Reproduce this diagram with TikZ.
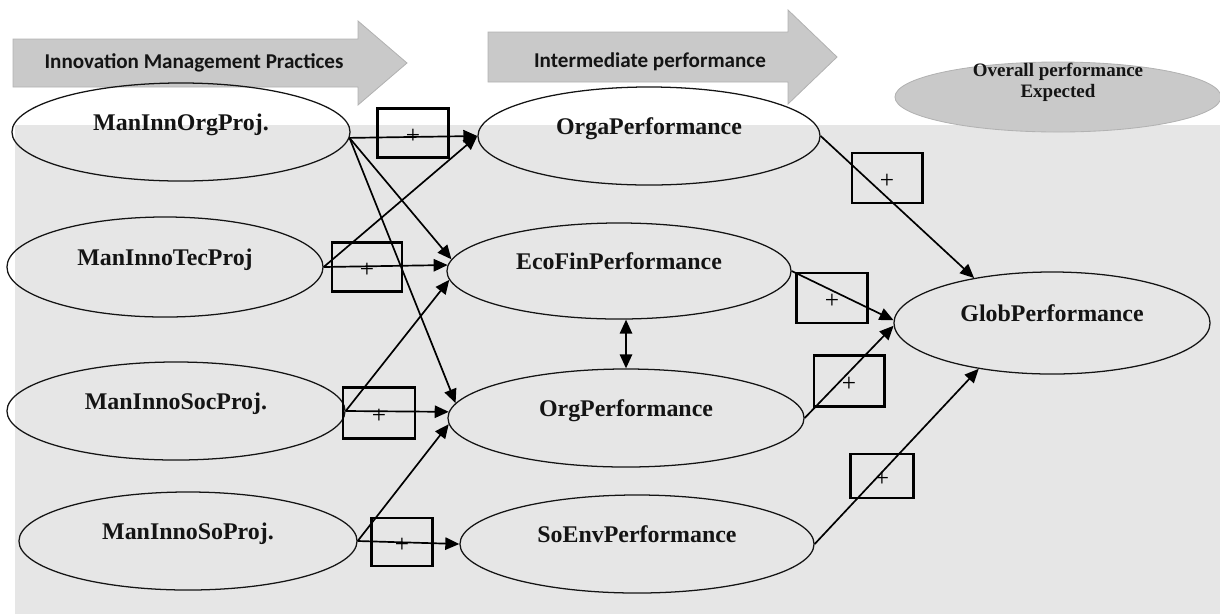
\documentclass[tikz,border=0pt]{standalone}
\usepackage{fontspec}
\setmainfont{Liberation Serif}
\newfontfamily\kopffont{Carlito}
\usepackage{tikz}
\usetikzlibrary{arrows.meta, calc, positioning, shapes.geometric}
\definecolor{dunkel}{HTML}{141414}
\definecolor{hell}{HTML}{E6E6E6}
\definecolor{mittel}{HTML}{C9C9C9}
\definecolor{rand}{HTML}{B2B2B2}

\begin{document}
\begin{tikzpicture}[x=0.025cm, y=-0.025cm,
    konstrukt/.style={ellipse, draw=dunkel, line width=0.9pt, inner sep=0pt,
      minimum height=2.45cm, text=dunkel,
      font=\fontsize{17}{19}\selectfont\bfseries,
      text height=0.39cm, text depth=0.45cm},
    plusbox/.style={draw=black, line width=2.1pt, inner sep=0pt,
      font=\fontsize{18}{19}\selectfont, text height=0.52cm, text depth=0cm},
    wirkung/.style={-{Triangle[length=3.5mm, width=3.1mm]}, line width=1.2pt},
    kopf/.style={fill=mittel, draw=rand, line width=0.6pt}]
  \useasboundingbox (0,0) rectangle (1220,614);

  % Hintergrund
  \fill[hell] (15,125) rectangle (1220,614);

  % Kopfpfeile
  \draw[kopf] (13,39) -- (358,39) -- (358,21) -- (407,63) -- (358,105)
    -- (358,87) -- (13,87) -- cycle;
  \node[anchor=base, font=\kopffont\fontsize{15}{17}\selectfont\bfseries, text=dunkel]
    (kPraxis) at (194,68) {Innovation Management Practices};
  \draw[kopf] (488,32) -- (788,32) -- (788,10) -- (837,57) -- (788,104)
    -- (788,82) -- (488,82) -- cycle;
  \node[anchor=base, font=\kopffont\fontsize{15}{17}\selectfont\bfseries, text=dunkel]
    (kZwischen) at (650,67) {Intermediate performance};
  \node[ellipse, fill=mittel, draw=rand, line width=0.6pt, minimum width=8.15cm,
    minimum height=1.75cm,
    label={[font=\fontsize{13.5}{15}\selectfont\bfseries, align=center, text=dunkel,
      yshift=0.375cm]center:Overall performance\\Expected}] (pOverall) at (1058,97) {};

  % Praktiken
  \node[konstrukt, minimum width=8.45cm] (mOrgProj) at (181,132) {ManInnOrgProj.};
  \node[konstrukt, minimum width=7.9cm, minimum height=2.5cm] (mTecProj) at (165,267) {ManInnoTecProj};
  \node[konstrukt, minimum width=8.45cm] (mSocProj) at (176,411) {ManInnoSocProj.};
  \node[konstrukt, minimum width=8.45cm] (mSoProj) at (188,541) {ManInnoSoProj.};

  % Zwischenleistung
  \node[konstrukt, minimum width=8.55cm] (pOrga) at (649,136) {OrgaPerformance};
  \node[konstrukt, minimum width=8.6cm, minimum height=2.4cm] (pEcoFin) at (619,271) {EcoFinPerformance};
  \node[konstrukt, minimum width=8.9cm] (pOrg) at (626,418) {OrgPerformance};
  \node[konstrukt, minimum width=8.85cm] (pSoEnv) at (637,544) {SoEnvPerformance};

  % Gesamtleistung
  \node[konstrukt, minimum width=7.9cm, minimum height=2.55cm] (pGlob) at (1052,323) {GlobPerformance};

  % Pfade
  \draw[wirkung] (mOrgProj.-2) -- (pOrga.west);
  \draw[wirkung] (mOrgProj.-2) -- (pEcoFin.176);
  \draw[wirkung] (mOrgProj.-2) -- (pOrg.175);
  \draw[wirkung] (mTecProj.east) -- (pOrga.west);
  \draw[wirkung] (mTecProj.east) -- (pEcoFin.178);
  \draw[wirkung] (mSocProj.east) -- (pEcoFin.183);
  \draw[wirkung] (mSocProj.east) -- (pOrg.178);
  \draw[wirkung] (mSoProj.east) -- (pOrg.182);
  \draw[wirkung] (mSoProj.east) -- (pSoEnv.west);
  \draw[wirkung] (pOrga.east) -- (pGlob.150);
  \draw[wirkung] (pEcoFin.east) -- (pGlob.179);
  \draw[wirkung] (pOrg.east) -- (pGlob.181);
  \draw[wirkung] (pSoEnv.east) -- (pGlob.212);
  \draw[{Triangle[length=3.5mm, width=3.1mm]}-{Triangle[length=3.5mm, width=3.1mm]}, line width=1.2pt]
    (pOrg.north |- pEcoFin.south) -- (pOrg.north);

  % Vorzeichen
  \node[plusbox, minimum width=1.78cm, minimum height=1.23cm] (b1) at (413,133) {+};
  \node[plusbox, minimum width=1.75cm, minimum height=1.23cm] (b2) at (367,267) {+};
  \node[plusbox, minimum width=1.8cm, minimum height=1.28cm] (b3) at (379,413) {+};
  \node[plusbox, minimum width=1.53cm, minimum height=1.2cm] (b4) at (402,542) {+};
  \node[plusbox, minimum width=1.75cm, minimum height=1.25cm] (b5) at (887,178) {+};
  \node[plusbox, minimum width=1.78cm, minimum height=1.25cm] (b6) at (832,298) {+};
  \node[plusbox, minimum width=1.75cm, minimum height=1.28cm] (b7) at (849,381) {+};
  \node[plusbox, minimum width=1.58cm, minimum height=1.1cm] (b8) at (882,476) {+};
\end{tikzpicture}
\end{document}
